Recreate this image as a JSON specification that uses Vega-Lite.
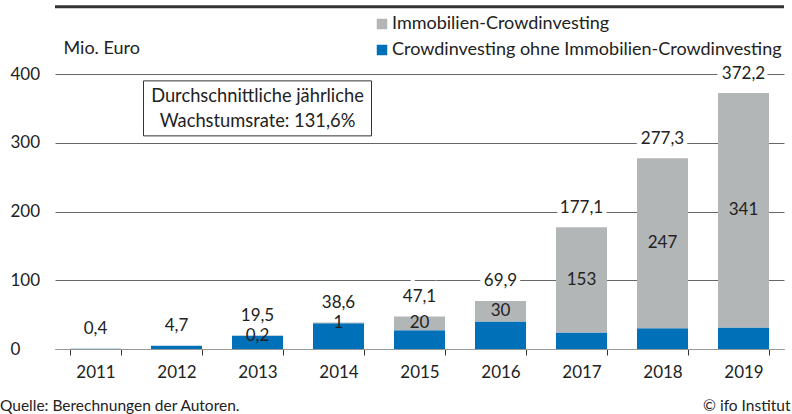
{
  "$schema": "https://vega.github.io/schema/vega-lite/v6.json",
  "width": 729,
  "height": 275,
  "autosize": "none",
  "padding": {"left": 55, "top": 74, "right": 8, "bottom": 65},
  "background": "white",
  "config": {
    "font": "Lato",
    "view": {"stroke": null},
    "text": {"font": "Lato"}
  },
  "title": {
    "text": "Quelle: Berechnungen der Autoren.",
    "orient": "bottom",
    "anchor": "start",
    "frame": "group",
    "dx": -55,
    "offset": -15,
    "fontSize": 15.5,
    "fontWeight": "normal",
    "color": "#222"
  },
  "datasets": {
    "segments": [
      {"year": "2011", "category": "Crowdinvesting ohne Immobilien-Crowdinvesting", "value": 0.4},
      {"year": "2012", "category": "Crowdinvesting ohne Immobilien-Crowdinvesting", "value": 4.7},
      {"year": "2013", "category": "Crowdinvesting ohne Immobilien-Crowdinvesting", "value": 19.3},
      {"year": "2013", "category": "Immobilien-Crowdinvesting", "value": 0.2, "seglabel": "0,2"},
      {"year": "2014", "category": "Crowdinvesting ohne Immobilien-Crowdinvesting", "value": 37.6},
      {"year": "2014", "category": "Immobilien-Crowdinvesting", "value": 1, "seglabel": "1"},
      {"year": "2015", "category": "Crowdinvesting ohne Immobilien-Crowdinvesting", "value": 27.1},
      {"year": "2015", "category": "Immobilien-Crowdinvesting", "value": 20, "seglabel": "20"},
      {"year": "2016", "category": "Crowdinvesting ohne Immobilien-Crowdinvesting", "value": 39.9},
      {"year": "2016", "category": "Immobilien-Crowdinvesting", "value": 30, "seglabel": "30"},
      {"year": "2017", "category": "Crowdinvesting ohne Immobilien-Crowdinvesting", "value": 24.1},
      {"year": "2017", "category": "Immobilien-Crowdinvesting", "value": 153, "seglabel": "153"},
      {"year": "2018", "category": "Crowdinvesting ohne Immobilien-Crowdinvesting", "value": 30.3},
      {"year": "2018", "category": "Immobilien-Crowdinvesting", "value": 247, "seglabel": "247"},
      {"year": "2019", "category": "Crowdinvesting ohne Immobilien-Crowdinvesting", "value": 31.2},
      {"year": "2019", "category": "Immobilien-Crowdinvesting", "value": 341, "seglabel": "341"}
    ],
    "totals": [
      {"year": "2011", "total": 0.4, "label": "0,4"},
      {"year": "2012", "total": 4.7, "label": "4,7"},
      {"year": "2013", "total": 19.5, "label": "19,5"},
      {"year": "2014", "total": 38.6, "label": "38,6"},
      {"year": "2015", "total": 47.1, "label": "47,1"},
      {"year": "2016", "total": 69.9, "label": "69,9"},
      {"year": "2017", "total": 177.1, "label": "177,1"},
      {"year": "2018", "total": 277.3, "label": "277,3"},
      {"year": "2019", "total": 372.2, "label": "372,2"}
    ],
    "note": [
      {"year": "2013", "top": 390, "bottom": 310, "mid": 366.5, "text": ["Durchschnittliche jährliche", "Wachstumsrate: 131,6%"]}
    ],
    "frame": [
      {"edge": 498}
    ]
  },
  "layer": [
    {
      "data": {"name": "segments"},
      "mark": {"type": "bar"},
      "encoding": {
        "x": {
          "field": "year", "type": "ordinal", "title": "© ifo Institut",
          "scale": {"paddingInner": 0.37, "paddingOuter": 0.185},
          "axis": {
            "labelAngle": 0, "labelFontSize": 17, "labelColor": "#222", "labelPadding": 9,
            "tickBand": "extent", "tickSize": 6, "tickColor": "#333", "domainColor": "#999",
            "titleAnchor": "end", "titleAlign": "right", "titleX": 735, "titleY": 56,
            "titleBaseline": "middle", "titleFontSize": 15.5, "titleFontWeight": "normal", "titleColor": "#222"
          }
        },
        "y": {
          "aggregate": "sum", "field": "value", "type": "quantitative", "title": "Mio. Euro",
          "scale": {"domain": [0, 400], "nice": false},
          "axis": {
            "values": [0, 100, 200, 300, 400], "ticks": false, "domain": false,
            "grid": true, "gridColor": "#666", "gridWidth": 1,
            "labelAlign": "left", "labelPadding": 45, "labelFontSize": 17, "labelColor": "#222", "labelBaseline": "middle",
            "titleAngle": 0, "titleAlign": "left", "titleX": 8, "titleY": -26, "titleBaseline": "middle",
            "titleFontSize": 18, "titleFontWeight": "normal", "titleColor": "#222"
          }
        },
        "color": {
          "field": "category", "type": "nominal",
          "scale": {
            "domain": ["Immobilien-Crowdinvesting", "Crowdinvesting ohne Immobilien-Crowdinvesting"],
            "range": ["#b3b6b7", "#0070b8"]
          },
          "legend": {
            "orient": "none", "legendX": 318, "legendY": -59, "title": null,
            "symbolType": "square", "symbolSize": 110, "symbolStrokeWidth": 0,
            "labelFontSize": 18, "labelColor": "#222", "rowPadding": 8, "labelOffset": 1, "labelLimit": 600
          }
        },
        "order": {"field": "category", "sort": "ascending"}
      }
    },
    {
      "data": {"name": "segments"},
      "transform": [
        {"stack": "value", "groupby": ["year"], "sort": [{"field": "category", "order": "ascending"}], "as": ["y0", "y1"]},
        {"filter": {"field": "category", "equal": "Immobilien-Crowdinvesting"}},
        {"fold": ["y0", "y1"], "as": ["k", "v"]},
        {"aggregate": [{"op": "mean", "field": "v", "as": "mid"}], "groupby": ["year", "seglabel"]}
      ],
      "mark": {"type": "text", "fontSize": 17, "color": "#222", "baseline": "middle"},
      "encoding": {
        "x": {"field": "year", "type": "ordinal", "title": "© ifo Institut"},
        "y": {"field": "mid", "type": "quantitative", "title": "Mio. Euro"},
        "text": {"field": "seglabel"}
      }
    },
    {
      "data": {"name": "totals"},
      "mark": {"type": "text", "fontSize": 17, "baseline": "middle", "dy": -19.5, "fill": "white", "stroke": "white", "strokeWidth": 9},
      "encoding": {
        "x": {"field": "year", "type": "ordinal", "title": "© ifo Institut"},
        "y": {"field": "total", "type": "quantitative", "title": "Mio. Euro"},
        "text": {"field": "label"}
      }
    },
    {
      "data": {"name": "totals"},
      "mark": {"type": "text", "fontSize": 17, "baseline": "middle", "dy": -19.5, "color": "#222"},
      "encoding": {
        "x": {"field": "year", "type": "ordinal", "title": "© ifo Institut"},
        "y": {"field": "total", "type": "quantitative", "title": "Mio. Euro"},
        "text": {"field": "label"}
      }
    },
    {
      "data": {"name": "note"},
      "mark": {"type": "rect", "width": 228, "fill": "white", "stroke": "#333", "strokeWidth": 1},
      "encoding": {
        "x": {"field": "year", "type": "ordinal", "title": "© ifo Institut"},
        "y": {"field": "top", "type": "quantitative", "title": "Mio. Euro"},
        "y2": {"field": "bottom"}
      }
    },
    {
      "data": {"name": "note"},
      "mark": {"type": "text", "fontSize": 18.3, "baseline": "middle", "lineHeight": 25, "color": "#222"},
      "encoding": {
        "x": {"field": "year", "type": "ordinal", "title": "© ifo Institut"},
        "y": {"field": "mid", "type": "quantitative", "title": "Mio. Euro"},
        "text": {"field": "text"}
      }
    },
    {
      "data": {"name": "frame"},
      "mark": {"type": "rule", "color": "#333", "strokeWidth": 3},
      "encoding": {"y": {"field": "edge", "type": "quantitative", "title": "Mio. Euro"}}
    }
  ]
}
